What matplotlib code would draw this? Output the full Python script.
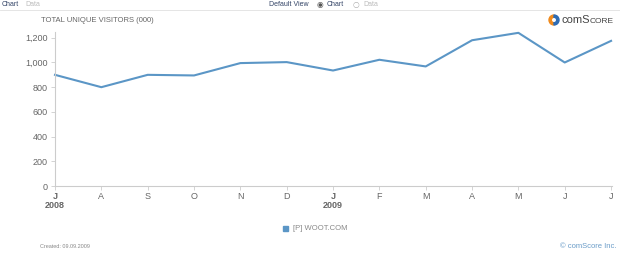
import matplotlib.pyplot as plt
from matplotlib.patches import Wedge

months = ['J', 'A', 'S', 'O', 'N', 'D', 'J', 'F', 'M', 'A', 'M', 'J', 'J']
years = ['2008', '', '', '', '', '', '2009', '', '', '', '', '', '']
visitors = [900, 800, 900, 895, 995, 1003, 935, 1022, 968, 1180, 1240, 1000, 1175]
yticks = [0, 200, 400, 600, 800, 1000, 1200]

line_color = '#5b96c6'
text_gray = '#666666'
axis_gray = '#cccccc'

plt.rcParams['font.family'] = 'Liberation Sans'

fig = plt.figure(figsize=(6.2, 2.54), dpi=100)
ax = fig.add_axes([55 / 620, 68 / 254, 557 / 620, 154.4 / 254])

x = list(range(len(visitors)))
ax.plot(x, visitors, color=line_color, lw=1.5, clip_on=False)
ax.set_xlim(0, 12.02)
ax.set_ylim(0, 1250)

ax.set_yticks(yticks)
ax.set_yticklabels(['{:,}'.format(v) for v in yticks], fontsize=6.5, color=text_gray)
ax.set_xticks(x)
ax.set_xticklabels([m + ('\n' + y if y else '') for m, y in zip(months, years)],
                   fontsize=6.5, color=text_gray, linespacing=1.1)
for lbl, y in zip(ax.get_xticklabels(), years):
    if y:
        lbl.set_fontweight('bold')
ax.tick_params(axis='y', length=3, width=0.6, color=axis_gray, pad=2)
ax.tick_params(axis='x', length=3, width=0.6, color=axis_gray, pad=1)

for s in ['top', 'right']:
    ax.spines[s].set_visible(False)
for s in ['left', 'bottom']:
    ax.spines[s].set_color(axis_gray)
    ax.spines[s].set_linewidth(0.8)

# header
fig.text(2 / 620, 1 - 5 / 254, 'Chart', fontsize=5, color='#334466', va='center')
fig.text(25 / 620, 1 - 5 / 254, 'Data', fontsize=5, color='#bbbbbb', va='center')
fig.text(269 / 620, 1 - 5 / 254, 'Default View', fontsize=5, color='#334466', va='center')
fig.text(317 / 620, 1 - 5 / 254, '◉', fontsize=5.5, color='#555555', va='center', family='DejaVu Sans')
fig.text(327 / 620, 1 - 5 / 254, 'Chart', fontsize=5, color='#334466', va='center')
fig.text(353 / 620, 1 - 5 / 254, '○', fontsize=5.5, color='#aaaaaa', va='center', family='DejaVu Sans')
fig.text(363 / 620, 1 - 5 / 254, 'Data', fontsize=5, color='#bbbbbb', va='center')
fig.add_artist(plt.Line2D([0, 1], [1 - 10 / 254, 1 - 10 / 254], color='#e0e0e0', lw=0.6))

fig.text(41 / 620, 1 - 20 / 254, 'TOTAL UNIQUE VISITORS (000)', fontsize=5.5,
         color=text_gray, va='center')

# comScore logo: "comS" then a smaller "CORE"
fig.text(561 / 620, 1 - 23 / 254, 'comS', fontsize=8, color='#444444', va='baseline')
fig.text(589.5 / 620, 1 - 23 / 254, 'CORE', fontsize=6, color='#444444', va='baseline')
fig.add_artist(Wedge((554, 254 - 20), 5, 90, 270, width=2.3, color='#f08a1c',
                     transform=None))
fig.add_artist(Wedge((554, 254 - 20), 5, -90, 90, width=2.3, color='#2d6cb5',
                     transform=None))

# legend
fig.patches.append(plt.Rectangle((283 / 620, 1 - 231 / 254), 5 / 620, 5 / 254,
                                 color=line_color, transform=fig.transFigure))
fig.text(293 / 620, 1 - 228.5 / 254, '[P] WOOT.COM', fontsize=5.5, color='#888888',
         va='center')

# footer
fig.text(40 / 620, 1 - 246 / 254, 'Created: 09.09.2009', fontsize=4, color='#888888',
         va='center')
fig.text(617 / 620, 1 - 246 / 254, '© comScore Inc.', fontsize=5.5, color='#6a9cc8',
         va='center', ha='right')

fig.savefig('out.png', dpi=100, facecolor='white')
